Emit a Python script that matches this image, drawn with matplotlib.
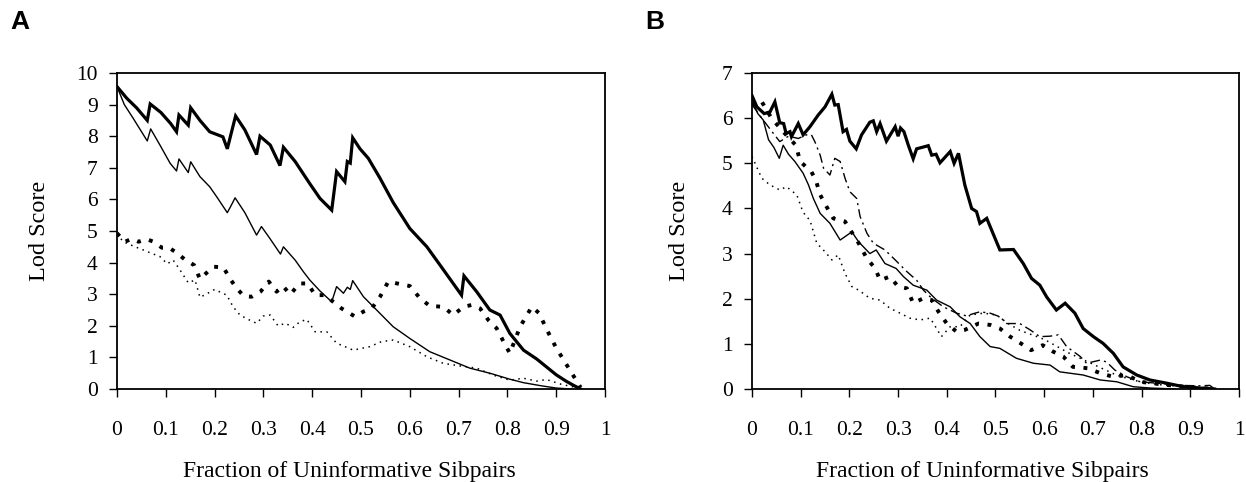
import matplotlib
matplotlib.use("Agg")
import matplotlib.pyplot as plt

plt.rcParams['font.family'] = ['Liberation Serif', 'DejaVu Serif']

# ---------------- Panel A data ----------------
a_thick_x = [0.0, 0.02, 0.04, 0.062, 0.068, 0.09, 0.11, 0.122, 0.127, 0.146, 0.151, 0.17, 0.19, 0.217, 0.226, 0.243, 0.262,
             0.286, 0.293, 0.314, 0.334, 0.341, 0.365, 0.395, 0.416, 0.44, 0.45, 0.467, 0.472, 0.478, 0.483, 0.498, 0.515,
             0.539, 0.566, 0.6, 0.635, 0.669, 0.706, 0.711, 0.737, 0.764, 0.785, 0.805, 0.833, 0.86, 0.88, 0.9, 0.92, 0.935, 0.95]
a_thick_y = [9.57, 9.2, 8.9, 8.5, 9.02, 8.75, 8.4, 8.14, 8.67, 8.35, 8.9, 8.5, 8.14, 7.98, 7.6, 8.64, 8.2,
             7.42, 8.0, 7.72, 7.07, 7.65, 7.2, 6.5, 6.03, 5.66, 6.88, 6.56, 7.2, 7.15, 7.95, 7.6, 7.3,
             6.67, 5.9, 5.08, 4.5, 3.77, 2.97, 3.58, 3.08, 2.5, 2.34, 1.76, 1.23, 0.95, 0.7, 0.45, 0.25, 0.12, 0.0]

a_thin_x = [0.0, 0.015, 0.033, 0.062, 0.069, 0.088, 0.109, 0.122, 0.127, 0.146, 0.151, 0.17, 0.19, 0.204, 0.226, 0.232,
            0.242, 0.262, 0.286, 0.296, 0.313, 0.335, 0.341, 0.365, 0.382, 0.395, 0.416, 0.44, 0.45, 0.464, 0.472,
            0.478, 0.483, 0.505, 0.532, 0.566, 0.6, 0.641, 0.682, 0.723, 0.764, 0.805, 0.833, 0.87, 0.9, 0.93]
a_thin_y = [9.57, 9.0, 8.57, 7.85, 8.23, 7.72, 7.14, 6.9, 7.28, 6.85, 7.19, 6.72, 6.4, 6.09, 5.58, 5.75,
            6.05, 5.58, 4.87, 5.14, 4.77, 4.27, 4.5, 4.08, 3.71, 3.45, 3.1, 2.76, 3.24, 3.03, 3.22,
            3.15, 3.43, 2.92, 2.5, 1.97, 1.6, 1.18, 0.92, 0.66, 0.5, 0.31, 0.2, 0.1, 0.03, 0.0]

a_tdot_x = [0.0, 0.016, 0.03, 0.044, 0.061, 0.075, 0.092, 0.107, 0.122, 0.139, 0.158, 0.17, 0.197, 0.218, 0.232, 0.245,
            0.26, 0.276, 0.294, 0.311, 0.327, 0.34, 0.355, 0.374, 0.391, 0.406, 0.426, 0.46, 0.488, 0.505, 0.522,
            0.539, 0.556, 0.58, 0.6, 0.621, 0.641, 0.669, 0.689, 0.71, 0.727, 0.744, 0.761, 0.778, 0.792, 0.805,
            0.826, 0.85, 0.865, 0.88, 0.9, 0.92, 0.94, 0.95]
a_tdot_y = [4.93, 4.66, 4.75, 4.66, 4.74, 4.66, 4.47, 4.47, 4.31, 4.1, 3.92, 3.48, 3.87, 3.85, 3.48, 3.19,
            2.94, 2.92, 3.08, 3.4, 3.08, 3.26, 2.99, 3.34, 3.34, 2.97, 2.97, 2.55, 2.29, 2.45, 2.55,
            2.92, 3.4, 3.32, 3.26, 2.87, 2.63, 2.6, 2.34, 2.6, 2.66, 2.55, 2.18, 1.92, 1.5, 1.13,
            1.97, 2.6, 2.4, 1.9, 1.3, 0.8, 0.3, 0.05]

a_dot_x = [0.0, 0.013, 0.037, 0.054, 0.068, 0.088, 0.103, 0.115, 0.129, 0.146, 0.16, 0.17, 0.186, 0.2, 0.225, 0.238,
           0.252, 0.269, 0.286, 0.3, 0.314, 0.33, 0.345, 0.361, 0.375, 0.389, 0.406, 0.43, 0.45, 0.484, 0.518,
           0.542, 0.566, 0.6, 0.635, 0.669, 0.703, 0.737, 0.771, 0.805, 0.833, 0.86, 0.88, 0.91, 0.94, 0.95]
a_dot_y = [4.9, 4.66, 4.5, 4.4, 4.31, 4.19, 3.96, 4.08, 3.77, 3.36, 3.45, 2.9, 3.03, 3.15, 2.97, 2.6,
           2.34, 2.2, 2.08, 2.31, 2.34, 2.0, 2.08, 1.95, 2.13, 2.2, 1.81, 1.81, 1.45, 1.23, 1.34,
           1.5, 1.55, 1.34, 1.02, 0.81, 0.73, 0.66, 0.44, 0.28, 0.34, 0.25, 0.3, 0.15, 0.05, 0.0]

# ---------------- Panel B data ----------------
b_thick_x = [0.0, 0.01, 0.025, 0.037, 0.047, 0.057, 0.065, 0.07, 0.078, 0.081, 0.095, 0.105, 0.119, 0.136, 0.15, 0.164,
             0.17, 0.177, 0.187, 0.194, 0.201, 0.214, 0.225, 0.242, 0.249, 0.256, 0.263, 0.276, 0.294, 0.3, 0.305,
             0.312, 0.321, 0.331, 0.338, 0.362, 0.369, 0.378, 0.386, 0.407, 0.415, 0.424, 0.437, 0.451, 0.461,
             0.468, 0.482, 0.509, 0.537, 0.557, 0.574, 0.591, 0.605, 0.625, 0.643, 0.663, 0.68, 0.701, 0.721,
             0.742, 0.762, 0.79, 0.817, 0.851, 0.886, 0.92, 0.95]
b_thick_y = [6.5, 6.25, 6.1, 6.14, 6.36, 5.9, 5.88, 5.66, 5.7, 5.59, 5.88, 5.63, 5.81, 6.07, 6.25, 6.53,
             6.29, 6.3, 5.7, 5.75, 5.49, 5.32, 5.63, 5.91, 5.94, 5.7, 5.88, 5.49, 5.81, 5.6, 5.78,
             5.7, 5.4, 5.1, 5.32, 5.39, 5.18, 5.2, 5.01, 5.26, 5.0, 5.22, 4.52, 4.0, 3.93,
             3.67, 3.78, 3.08, 3.09, 2.78, 2.45, 2.3, 2.04, 1.75, 1.9, 1.68, 1.34, 1.16, 1.01,
             0.79, 0.49, 0.31, 0.2, 0.13, 0.05, 0.02, 0.0]

b_thin_x = [0.0, 0.012, 0.023, 0.034, 0.045, 0.056, 0.064, 0.075, 0.088, 0.105, 0.116, 0.126, 0.14, 0.16, 0.181,
            0.205, 0.219, 0.242, 0.255, 0.273, 0.296, 0.311, 0.331, 0.359, 0.379, 0.407, 0.427, 0.448, 0.468,
            0.489, 0.509, 0.543, 0.578, 0.612, 0.632, 0.68, 0.715, 0.749, 0.783, 0.82, 0.87]
b_thin_y = [6.4, 6.1, 5.96, 5.52, 5.35, 5.11, 5.4, 5.2, 5.04, 4.78, 4.52, 4.22, 3.89, 3.67, 3.3,
            3.48, 3.26, 3.0, 3.08, 2.78, 2.67, 2.49, 2.3, 2.19, 1.97, 1.82, 1.6, 1.45, 1.16,
            0.94, 0.9, 0.68, 0.57, 0.53, 0.38, 0.31, 0.2, 0.16, 0.05, 0.02, 0.0]

b_tdot_x = [0.0, 0.018, 0.04, 0.064, 0.09, 0.099, 0.122, 0.131, 0.14, 0.153, 0.167, 0.191, 0.219, 0.236, 0.253,
            0.263, 0.283, 0.3, 0.318, 0.331, 0.352, 0.369, 0.383, 0.4, 0.42, 0.437, 0.465, 0.489, 0.509, 0.53,
            0.552, 0.573, 0.597, 0.618, 0.639, 0.659, 0.69, 0.715, 0.742, 0.77, 0.797, 0.851, 0.9, 0.95]
b_tdot_y = [6.3, 6.4, 6.0, 5.7, 5.4, 5.04, 4.81, 4.63, 4.3, 4.04, 3.78, 3.71, 3.23, 2.89, 2.67,
            2.41, 2.49, 2.27, 2.23, 1.9, 2.01, 1.97, 1.71, 1.45, 1.27, 1.31, 1.45, 1.42, 1.34, 1.16,
            1.01, 0.86, 0.97, 0.83, 0.72, 0.49, 0.46, 0.35, 0.27, 0.31, 0.16, 0.09, 0.04, 0.0]

b_dot_x = [0.0, 0.02, 0.037, 0.057, 0.071, 0.092, 0.102, 0.109, 0.119, 0.133, 0.15, 0.164, 0.177, 0.191, 0.205,
           0.219, 0.242, 0.263, 0.283, 0.304, 0.324, 0.345, 0.366, 0.379, 0.389, 0.407, 0.427, 0.448, 0.475,
           0.502, 0.526, 0.55, 0.6, 0.65, 0.7, 0.75, 0.8, 0.85, 0.9, 0.95]
b_dot_y = [5.15, 4.67, 4.52, 4.41, 4.48, 4.3, 4.0, 3.85, 3.74, 3.23, 3.04, 2.86, 2.97, 2.56, 2.27,
           2.19, 2.01, 1.97, 1.79, 1.68, 1.57, 1.53, 1.57, 1.34, 1.16, 1.38, 1.38, 1.64, 1.68,
           1.64, 1.45, 1.3, 1.1, 0.8, 0.55, 0.3, 0.15, 0.08, 0.05, 0.02]

b_dash_x = [0.0, 0.02, 0.044, 0.057, 0.075, 0.095, 0.112, 0.122, 0.129, 0.14, 0.147, 0.16, 0.17, 0.181, 0.191,
            0.201, 0.215, 0.222, 0.236, 0.249, 0.273, 0.294, 0.318, 0.338, 0.352, 0.369, 0.393, 0.42, 0.44,
            0.458, 0.468, 0.489, 0.509, 0.523, 0.55, 0.571, 0.591, 0.612, 0.629, 0.646, 0.674, 0.687, 0.715,
            0.728, 0.745, 0.77, 0.797, 0.84, 0.88, 0.92, 0.94, 0.95]
b_dash_y = [6.3, 6.0, 5.66, 5.48, 5.6, 5.55, 5.63, 5.63, 5.48, 5.18, 4.89, 4.74, 5.11, 5.04, 4.67,
            4.37, 4.22, 3.82, 3.45, 3.23, 3.08, 2.86, 2.6, 2.41, 2.19, 2.01, 1.82, 1.68, 1.62,
            1.68, 1.71, 1.68, 1.6, 1.45, 1.45, 1.31, 1.16, 1.17, 1.2, 0.94, 0.72, 0.57, 0.64,
            0.6, 0.42, 0.27, 0.16, 0.12, 0.08, 0.07, 0.08, 0.0]

x_ticks = [0, 0.1, 0.2, 0.3, 0.4, 0.5, 0.6, 0.7, 0.8, 0.9, 1]
x_tick_labels = ['0', '0.1', '0.2', '0.3', '0.4', '0.5', '0.6', '0.7', '0.8', '0.9', '1']
a_yticks = list(range(0, 11))
b_yticks = list(range(0, 8))
x_label = 'Fraction of Uninformative Sibpairs'
y_label = 'Lod Score'

W, H = 1246, 482
fig = plt.figure(figsize=(W / 100, H / 100), dpi=100)

def fpos(l, t, r, b):
    return [l / W, 1 - b / H, (r - l) / W, (b - t) / H]

A_L, A_R = 117, 605
B_L, B_R = 752, 1239
axA = fig.add_axes(fpos(A_L, 73, A_R, 389))
axB = fig.add_axes(fpos(B_L, 73, B_R, 389))

thick = dict(color='black', lw=2.3, solid_joinstyle='miter')
thin = dict(color='black', lw=1.0)
tdot = dict(color='black', lw=2.8, linestyle=(0, (1.0, 2.2)), dash_capstyle='butt')
dot = dict(color='black', lw=1.1, linestyle=(0, (1.0, 3.0)))
dashdot = dict(color='black', lw=1.0, linestyle=(0, (7, 3, 1.5, 3)))

axA.plot(a_thick_x, a_thick_y, **thick)
axA.plot(a_thin_x, a_thin_y, **thin)
axA.plot(a_tdot_x, a_tdot_y, **tdot)
axA.plot(a_dot_x, a_dot_y, **dot)

axB.plot(b_thick_x, b_thick_y, **thick)
axB.plot(b_thin_x, b_thin_y, **thin)
axB.plot(b_tdot_x, b_tdot_y, **tdot)
axB.plot(b_dot_x, b_dot_y, **dot)
axB.plot(b_dash_x, b_dash_y, **dashdot)

for ax, yt, ymax, L, R, ylab_px, xlab_px in ((axA, a_yticks, 10, A_L, A_R, 50, 349),
                                              (axB, b_yticks, 7, B_L, B_R, 690, 982)):
    ax.set_xlim(0, 1)
    ax.set_ylim(0, ymax)
    ax.set_xticks(x_ticks)
    ax.set_xticklabels(x_tick_labels)
    ax.set_yticks(yt)
    ax.tick_params(axis='both', direction='out', length=6, width=1.0, labelsize=15.5, color='black')
    ax.tick_params(axis='x', pad=17)
    ax.tick_params(axis='y', pad=8)
    for s in ax.spines.values():
        s.set_linewidth(1.3)
        s.set_color('black')
    ax.set_ylabel(y_label, fontsize=17.5)
    ax.yaxis.set_label_coords((ylab_px - L) / (R - L), 0.5)
    fig.text(xlab_px / W, 1 - 472 / H, x_label, fontsize=17, ha='center', va='center')

fig.text(10 / W, 1 - 22 / H, 'A', fontsize=19, fontweight='bold', family='Liberation Sans', va='center', ha='left')
fig.text(645 / W, 1 - 22 / H, 'B', fontsize=19, fontweight='bold', family='Liberation Sans', va='center', ha='left')

fig.savefig('out.png', dpi=100)
